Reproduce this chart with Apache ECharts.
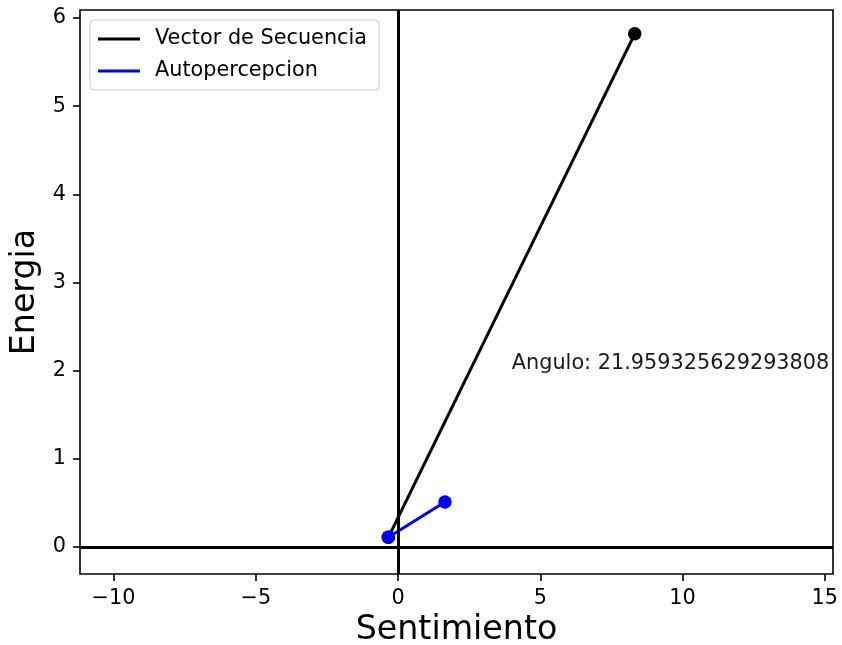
<!DOCTYPE html>
<html>
<head>
<meta charset="utf-8">
<script src="https://cdn.jsdelivr.net/npm/echarts@6/dist/echarts.min.js"></script>
<style>
  html, body { margin: 0; padding: 0; background: #fff; }
  #chart { width: 842px; height: 645px; }
</style>
</head>
<body>
<div id="chart"></div>
<script>
// Axis ticks
const xTicks = [-10, -5, 0, 5, 10, 15];
const yTicks = [0, 1, 2, 3, 4, 5, 6];

// Vectors in (Sentimiento, Energia) space
const vectorSecuencia = [[-0.34, 0.11], [8.32, 5.82]];
const autopercepcion = [[-0.34, 0.11], [1.65, 0.51]];

// Angle annotation
const anguloPos = [4, 2];
const anguloText = 'Angulo: 21.959325629293808';

const FONT = 'DejaVu Sans';
const minus = v => String(v).replace('-', '\u2212');

const chart = echarts.init(document.getElementById('chart'), null, { renderer: 'canvas' });

chart.setOption({
  animation: false,
  backgroundColor: '#ffffff',
  grid: {
    left: 80, right: 9, top: 10, bottom: 71,
    containLabel: false,
    outerBoundsMode: 'none',
    show: true, borderColor: '#000', borderWidth: 1.6, backgroundColor: 'transparent'
  },
  legend: {
    data: ['Vector de Secuencia', 'Autopercepcion'],
    orient: 'vertical',
    left: 90, top: 20,
    icon: 'rect',
    itemWidth: 42, itemHeight: 3,
    itemGap: 8,
    padding: [7, 12, 7, 8],
    borderColor: '#cccccc', borderWidth: 1, borderRadius: 4,
    backgroundColor: 'rgba(255,255,255,0.8)',
    textStyle: { fontFamily: FONT, fontSize: 20.8, color: '#000', lineHeight: 24, padding: [0, 0, 0, 10] }
  },
  xAxis: {
    type: 'value',
    min: -11.18, max: 15.29,
    name: 'Sentimiento',
    nameLocation: 'middle',
    nameGap: 40,
    nameTextStyle: { fontFamily: FONT, fontSize: 33.3, color: '#000' },
    axisLine: { show: false, onZero: false },
    axisTick: { show: true, inside: false, length: 7, customValues: xTicks, lineStyle: { color: '#000', width: 1.6 } },
    axisLabel: { show: true, margin: 14, customValues: xTicks, formatter: minus, fontFamily: FONT, fontSize: 20.8, color: '#000' },
    splitLine: { show: false }
  },
  yAxis: {
    type: 'value',
    min: -0.306, max: 6.09,
    name: 'Energia',
    nameLocation: 'middle',
    nameGap: 33,
    nameRotate: 90,
    nameTextStyle: { fontFamily: FONT, fontSize: 33.3, color: '#000' },
    axisLine: { show: false, onZero: false },
    axisTick: { show: true, inside: false, length: 7, customValues: yTicks, lineStyle: { color: '#000', width: 1.6 } },
    axisLabel: { show: true, margin: 14, customValues: yTicks, formatter: minus, fontFamily: FONT, fontSize: 20.8, color: '#000' },
    splitLine: { show: false }
  },
  series: [
    {
      // origin reference lines
      type: 'line',
      data: [],
      silent: true,
      z: 1,
      markLine: {
        silent: true,
        symbol: ['none', 'none'],
        label: { show: false },
        lineStyle: { color: '#000', width: 3, type: 'solid' },
        data: [{ xAxis: 0 }, { yAxis: 0 }]
      }
    },
    {
      name: 'Vector de Secuencia',
      type: 'line',
      data: vectorSecuencia,
      z: 3,
      color: '#000000',
      lineStyle: { color: '#000000', width: 3 },
      symbol: 'circle', symbolSize: 13.5,
      itemStyle: { color: '#000000' }
    },
    {
      name: 'Autopercepcion',
      type: 'line',
      data: autopercepcion,
      z: 4,
      color: '#0000ff',
      lineStyle: { color: '#0000ff', width: 3 },
      symbol: 'circle', symbolSize: 13.5,
      itemStyle: { color: '#0000ff' }
    },
    {
      type: 'scatter',
      data: [anguloPos],
      symbolSize: 0,
      silent: true,
      z: 5,
      itemStyle: { opacity: 1 },
      label: {
        show: true,
        position: 'right',
        distance: 0,
        offset: [0, -7],
        opacity: 1,
        formatter: anguloText,
        fontFamily: FONT, fontSize: 20.8, color: '#1a1a1a'
      }
    }
  ]
});
</script>
</body>
</html>
